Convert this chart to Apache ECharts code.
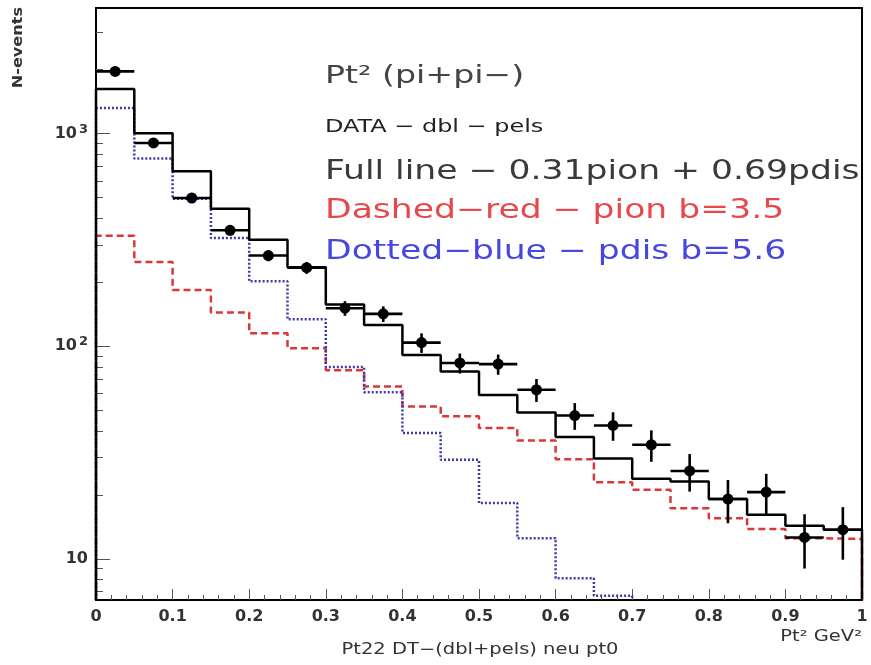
<!DOCTYPE html>
<html>
<head>
<meta charset="utf-8">
<script src="https://cdn.jsdelivr.net/npm/echarts@6/dist/echarts.min.js"></script>
<style>
html, body { margin: 0; padding: 0; background: #fff; }
#chart { width: 871px; height: 665px; }
</style>
</head>
<body>
<div id="chart"></div>
<script>
// Pt^2 bins, width 0.05 GeV^2
var binLow = [0, 0.05, 0.1, 0.15, 0.2, 0.25, 0.3, 0.35, 0.4, 0.45,
              0.5, 0.55, 0.6, 0.65, 0.7, 0.75, 0.8, 0.85, 0.9, 0.95];
var binCenter = [0.025, 0.075, 0.125, 0.175, 0.225, 0.275, 0.325, 0.375, 0.425, 0.475,
                 0.525, 0.575, 0.625, 0.675, 0.725, 0.775, 0.825, 0.875, 0.925, 0.975];
var binWidth = 0.05;

// full line: 0.31 pion + 0.69 pdis
var fullLine = [1620, 1005, 665, 443, 317, 235, 157, 126, 91, 76,
                59, 48.8, 37.4, 29.6, 23.8, 23.1, 19.1, 16.1, 14.3, 13.7];
// dashed red: pion b=3.5
var pionRed = [331, 249, 184, 144, 115, 97.7, 77, 64.7, 52.1, 46.8,
               41.2, 36.0, 29.4, 22.9, 21.1, 17.3, 15.5, 13.8, 12.5, 12.4];
// dotted blue: pdis b=5.6 (falls off the bottom after 0.7)
var pdisBlue = [1321, 763, 494, 323, 202, 134, 79.8, 60.8, 39.1, 29.2,
                18.3, 12.5, 8.1, 6.7];
// DATA - dbl - pels
var dataVal = [1963, 904, 498, 351, 267, 234, 151, 142, 104, 83.4,
               82.4, 62.4, 47.2, 42.4, 34.4, 25.9, 19.1, 20.6, 12.6, 13.7];
var dataErr = [44, 30, 22, 19, 16, 15, 12, 12, 11, 9,
               9, 7.7, 6.8, 6.5, 5.8, 5.2, 4.4, 4.5, 3.6, 3.8];

var yMin = 6.4, yMax = 3900;
var yMajor = [10, 100, 1000];
var yMinor = [7, 8, 9, 20, 30, 40, 50, 60, 70, 80, 90,
              200, 300, 400, 500, 600, 700, 800, 900, 2000, 3000];

var FONT = 'DejaVu Sans';
var SX = 1.33;

function histPoints(vals) {
    var pts = [[binLow[0], yMin]];
    for (var i = 0; i < vals.length; i++) {
        pts.push([binLow[i], vals[i]]);
    }
    var end = binLow[vals.length - 1] + binWidth;
    pts.push([end, vals[vals.length - 1]]);
    pts.push([end, yMin]);
    return pts;
}

var points = binCenter.map(function (x, i) {
    return [x, dataVal[i], dataErr[i]];
});

var chart = echarts.init(document.getElementById('chart'));

var option = {
    animation: false,
    backgroundColor: '#fff',
    grid: {
        left: 96, right: 9, top: 8, bottom: 65,
        show: true, borderColor: '#000', borderWidth: 2
    },
    xAxis: {
        type: 'value',
        min: 0, max: 1, interval: 0.1,
        axisLine: { lineStyle: { color: '#000', width: 2 } },
        axisTick: { inside: true, length: 11, lineStyle: { color: '#555', width: 1 } },
        minorTick: { show: true, splitNumber: 5, length: 5, lineStyle: { color: '#555', width: 1 } },
        axisLabel: { fontFamily: FONT, fontSize: 16, fontWeight: 'bold', color: '#333', margin: 9 },
        splitLine: { show: false }
    },
    yAxis: [{
        type: 'log', logBase: 10,
        min: yMin, max: yMax,
        axisLine: { show: true, lineStyle: { color: '#000', width: 2 } },
        axisTick: { inside: true, length: 14, customValues: yMajor, lineStyle: { color: '#555', width: 1 } },
        axisLabel: {
            customValues: yMajor,
            margin: 8,
            formatter: function (v) {
                var e = Math.round(Math.log10(v));
                return e === 1 ? '{a|10}' : '{a|10}{b|' + e + '}';
            },
            rich: {
                a: { fontFamily: FONT, fontSize: 16, fontWeight: 'bold', color: '#333', lineHeight: 22 },
                b: { fontFamily: FONT, fontSize: 13, fontWeight: 'bold', color: '#333', verticalAlign: 'top', lineHeight: 22, padding: [0, 0, 0, 2] }
            }
        },
        splitLine: { show: false }
    }, {
        type: 'log', logBase: 10,
        min: yMin, max: yMax,
        position: 'left',
        axisLine: { show: false },
        axisTick: { inside: true, length: 7, customValues: yMinor, lineStyle: { color: '#555', width: 1 } },
        axisLabel: { show: false },
        splitLine: { show: false }
    }],
    series: [{
        name: 'pion',
        type: 'line',
        step: 'end',
        data: histPoints(pionRed),
        symbol: 'none',
        clip: true,
        lineStyle: { color: '#d8383a', width: 2.5, type: [7, 4] }
    }, {
        name: 'pdis',
        type: 'line',
        step: 'end',
        data: histPoints(pdisBlue),
        symbol: 'none',
        clip: true,
        lineStyle: { color: '#3a3aa8', width: 2.5, type: [2, 2] }
    }, {
        name: 'full',
        type: 'line',
        step: 'end',
        data: histPoints(fullLine),
        symbol: 'none',
        clip: true,
        lineStyle: { color: '#000', width: 2.5 }
    }, {
        name: 'data',
        type: 'custom',
        data: points,
        z: 10,
        renderItem: function (params, api) {
            var x = api.value(0), y = api.value(1), e = api.value(2);
            var c = api.coord([x, y]);
            var l = api.coord([x - binWidth / 2, y]);
            var r = api.coord([x + binWidth / 2, y]);
            var t = api.coord([x, y + e]);
            var b = api.coord([x, y - e]);
            var st = { stroke: '#000', lineWidth: 2.6 };
            return {
                type: 'group',
                children: [
                    { type: 'line', shape: { x1: l[0], y1: l[1], x2: r[0], y2: r[1] }, style: st },
                    { type: 'line', shape: { x1: t[0], y1: t[1], x2: b[0], y2: b[1] }, style: st },
                    { type: 'circle', shape: { cx: c[0], cy: c[1], r: 5.5 }, style: { fill: '#000' } }
                ]
            };
        }
    }],
    graphic: [
        { type: 'text', x: 325, y: 76, scaleX: SX,
          style: { text: 'Pt\u00b2 (pi+pi\u2212)', fontFamily: FONT, fontSize: 25, fill: '#444', textVerticalAlign: 'middle' } },
        { type: 'text', x: 325, y: 127, scaleX: SX,
          style: { text: 'DATA \u2212 dbl \u2212 pels', fontFamily: FONT, fontSize: 18, fill: '#222', textVerticalAlign: 'middle' } },
        { type: 'text', x: 325, y: 172, scaleX: SX,
          style: { text: 'Full line \u2212 0.31pion + 0.69pdis', fontFamily: FONT, fontSize: 26, fill: '#3a3a3a', textVerticalAlign: 'middle' } },
        { type: 'text', x: 325, y: 211, scaleX: SX,
          style: { text: 'Dashed\u2212red \u2212 pion b=3.5', fontFamily: FONT, fontSize: 26, fill: '#e8484c', textVerticalAlign: 'middle' } },
        { type: 'text', x: 325, y: 252, scaleX: SX,
          style: { text: 'Dotted\u2212blue \u2212 pdis b=5.6', fontFamily: FONT, fontSize: 26, fill: '#4646e0', textVerticalAlign: 'middle' } },
        { type: 'text', x: 862, y: 637, scaleX: 1.3,
          style: { text: 'Pt\u00b2 GeV\u00b2', fontFamily: FONT, fontSize: 15, fill: '#333', textAlign: 'right', textVerticalAlign: 'middle' } },
        { type: 'text', x: 480, y: 650, scaleX: 1.3,
          style: { text: 'Pt22 DT\u2212(dbl+pels) neu pt0', fontFamily: FONT, fontSize: 15, fill: '#333', textAlign: 'center', textVerticalAlign: 'middle' } },
        { type: 'text', x: 18, y: 7, rotation: Math.PI / 2, scaleX: 1.15,
          style: { text: 'N-events', fontFamily: FONT, fontSize: 14, fontWeight: 'bold', fill: '#333', textAlign: 'right', textVerticalAlign: 'middle' } }
    ]
};

chart.setOption(option);
window.onresize = function () {
    chart.resize();
};
</script>
</body>
</html>
